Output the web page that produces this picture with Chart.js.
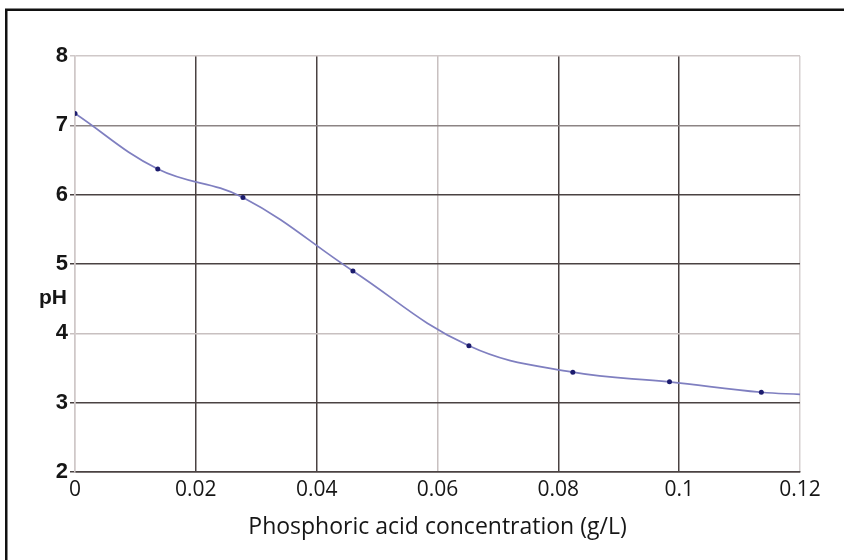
<!DOCTYPE html>
<html>
<head>
<meta charset="utf-8">
<script src="https://cdn.jsdelivr.net/npm/chart.js@4/dist/chart.umd.min.js"></script>
<style>
  html, body { margin: 0; padding: 0; background: #fff; }
  #wrap { width: 844px; height: 560px; }
</style>
</head>
<body>
<div id="wrap"><canvas id="myChart" width="844" height="560"></canvas></div>
<script>
// values
const concentration = [0, 0.0137, 0.0278, 0.046, 0.0652, 0.0824, 0.0984, 0.1136, 0.12];
const phValues = [7.17, 6.37, 5.96, 4.90, 3.82, 3.44, 3.30, 3.15, 3.12];
const xTickLabels = ['0', '0.02', '0.04', '0.06', '0.08', '0.1', '0.12'];
const yTickLabels = ['2', '3', '4', '5', '6', '7', '8'];

// gridlines in the scan are not all the same shade
const xGridColors = ['#cfc8c8', '#4a4242', '#4a4242', '#c8c0c0', '#4a4242', '#4a4242', '#d6d0d0'];
const yGridColors = ['#4a4242', '#4a4242', '#c8c0c0', '#4a4242', '#4a4242', '#8c8484', '#cfc8c8'];

const points = concentration.map((c, i) => ({ x: c, y: phValues[i] }));

const framePlugin = {
    id: 'frame',
    beforeDraw(chart) {
        const ctx = chart.ctx;
        ctx.save();
        ctx.fillStyle = '#fff';
        ctx.fillRect(0, 0, chart.width, chart.height);
        ctx.strokeStyle = '#111';
        ctx.lineWidth = 2.5;
        ctx.beginPath();
        ctx.moveTo(6.25, chart.height);
        ctx.lineTo(6.25, 9.75);
        ctx.lineTo(chart.width, 9.75);
        ctx.stroke();
        ctx.restore();
    },
    afterDraw(chart) {
        // horizontal "pH" label, as in the original
        const ctx = chart.ctx;
        const y = chart.scales.y.getPixelForValue(4.5);
        ctx.save();
        ctx.font = 'bold 21px "Liberation Sans", Arial, sans-serif';
        ctx.fillStyle = '#161616';
        ctx.textAlign = 'center';
        ctx.textBaseline = 'middle';
        ctx.fillText('pH', 53, y);
        ctx.restore();
    }
};

const ctx = document.getElementById('myChart').getContext('2d');
const myChart = new Chart(ctx, {
    type: 'line',
    data: {
        datasets: [{
            label: 'pH',
            data: points,
            borderColor: '#7f7fc0',
            borderWidth: 1.7,
            backgroundColor: '#1c1c6e',
            pointBackgroundColor: '#1c1c6e',
            pointBorderColor: '#1c1c6e',
            pointRadius: (c) => c.dataIndex === points.length - 1 ? 0 : 2.5,
            pointBorderWidth: 0,
            tension: 0.4,
            fill: false
        }]
    },
    options: {
        responsive: false,
        animation: false,
        layout: { padding: { left: 0, right: 44, top: 56, bottom: 0 } },
        plugins: {
            legend: { display: false },
            tooltip: { enabled: false }
        },
        scales: {
            x: {
                type: 'linear',
                min: 0,
                max: 0.12,
                afterFit: (scale) => { scale.height = 88; },
                afterBuildTicks: (scale) => {
                    scale.ticks = xTickLabels.map((t) => ({ value: parseFloat(t) }));
                },
                ticks: {
                    padding: 5,
                    color: '#161616',
                    font: { family: '"Open Sans", sans-serif', size: 21 },
                    callback: (v, i) => xTickLabels[i]
                },
                grid: {
                    color: (c) => xGridColors[c.index],
                    lineWidth: 1.5,
                    drawTicks: false
                },
                border: { display: true, color: '#4a4242', width: 1.5 },
                title: {
                    display: true,
                    text: 'Phosphoric acid concentration (g/L)',
                    color: '#161616',
                    font: { family: '"Open Sans", sans-serif', size: 23 },
                    padding: { top: 0, bottom: 19 }
                }
            },
            y: {
                type: 'linear',
                min: 2,
                max: 8,
                afterFit: (scale) => { scale.width = 75; },
                afterBuildTicks: (scale) => {
                    scale.ticks = yTickLabels.map((t) => ({ value: parseFloat(t) }));
                },
                ticks: {
                    padding: 2,
                    color: '#161616',
                    font: { family: '"Liberation Sans", Arial, sans-serif', size: 22, weight: 'bold' },
                    callback: (v, i) => yTickLabels[i]
                },
                grid: {
                    color: (c) => yGridColors[c.index],
                    lineWidth: 1.5,
                    tickLength: 5
                },
                border: { display: true, color: '#cfc8c8', width: 1.5 }
            }
        }
    },
    plugins: [framePlugin]
});
</script>
</body>
</html>
